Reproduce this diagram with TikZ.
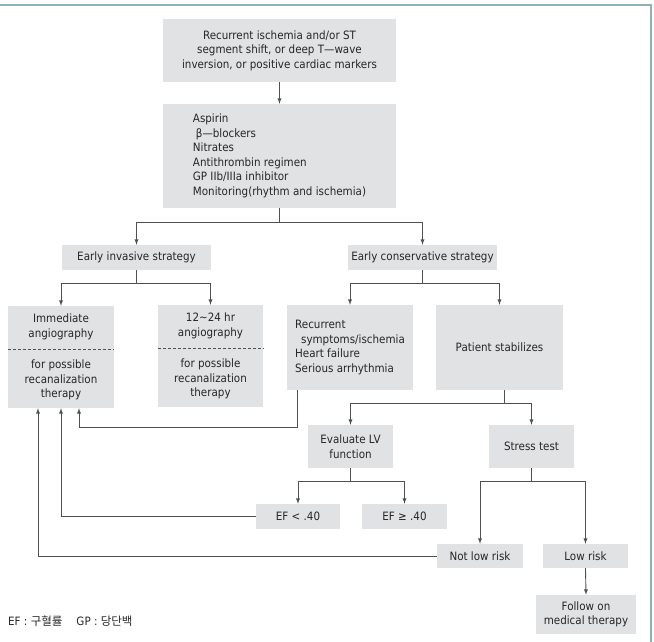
\documentclass[tikz,border=0pt]{standalone}
\usepackage{fontspec}
\setmainfont{DejaVu Sans}[FakeStretch=0.9]
\newfontfamily\kr{Noto Sans CJK KR}
\usetikzlibrary{calc}
\definecolor{boxgray}{HTML}{E1E2E4}
\definecolor{linegray}{HTML}{505050}
\definecolor{framecol}{HTML}{8DB3B6}
\tikzset{
  box/.style={fill=boxgray, inner sep=0pt, align=center, text=black!85},
  txt/.style={inner sep=0pt, align=center, text=black!85},
  conn/.style={draw=linegray, line width=0.9pt},
  sep/.style={draw=linegray, line width=0.7pt, dash pattern=on 3pt off 2pt},
}
\begin{document}
\begin{tikzpicture}[x=1pt,y=-1pt,font=\fontsize{11.5}{14.5}\selectfont]
\useasboundingbox (0,0) rectangle (654,642);
\draw[framecol,line width=1.5pt] (0,5) -- (651,5) -- (651,642);

\node[box,minimum width=233pt,minimum height=63pt] (sympt) at (279.5,50.5) {Recurrent ischemia and/or ST\\segment shift, or deep T—wave\\inversion, or positive cardiac markers};
\node[box,minimum width=233pt,minimum height=104pt,align=left] (meds) at (279.5,156) {Aspirin\\\hspace*{3pt}β—blockers\\Nitrates\\Antithrombin regimen\\GP IIb/IIIa inhibitor\\Monitoring(rhythm and ischemia)};
\draw[conn,-latex] (sympt.south) -- (meds.north);

\node[box,minimum width=149pt,minimum height=25pt] (inv) at (136.5,257.5) {Early invasive strategy};
\node[box,minimum width=149pt,minimum height=25pt] (cons) at (422.5,257.5) {Early conservative strategy};
\draw[conn,-latex] (meds.south) -- ++(0,14) -| (inv.north);
\draw[conn,-latex] (meds.south) -- ++(0,14) -| (cons.north);

\node[box,minimum width=106pt,minimum height=102pt] (imm) at (61,357) {};
\node[txt] (immup) at (61,327) {Immediate\\angiography};
\node[txt] (immlow) at (61,380) {for possible\\recanalization\\therapy};
\draw[sep] (imm.west |- 0,349) -- (imm.east |- 0,349);
\node[box,minimum width=105pt,minimum height=102pt] (late) at (210.5,356) {};
\node[txt] (lateup) at (210.5,326) {12∼24 hr\\angiography};
\node[txt] (latelow) at (210.5,379) {for possible\\recanalization\\therapy};
\draw[sep] (late.west |- 0,348) -- (late.east |- 0,348);
\draw[conn,-latex] (inv.south) -- ++(0,13) -| (imm.north);
\draw[conn,-latex] (inv.south) -- ++(0,13) -| (late.north);

\node[box,minimum width=126pt,minimum height=85pt,align=left] (rec) at (350,347.5) {Recurrent\\\hspace*{6pt}symptoms/ischemia\\Heart failure\\Serious arrhythmia};
\node[box,minimum width=127pt,minimum height=85pt] (stab) at (499.5,347.5) {Patient stabilizes};
\draw[conn,-latex] (cons.south) -- ++(0,13) -| (rec.north);
\draw[conn,-latex] (cons.south) -- ++(0,13) -| (stab.north);
\draw[conn,-latex] ([xshift=11pt]rec.south west) -- ++(0,37) -| ([xshift=18pt]imm.south);

\node[box,minimum width=85pt,minimum height=43pt] (lv) at (350.5,446.5) {Evaluate LV\\function};
\node[box,minimum width=85pt,minimum height=43pt] (stress) at (531.5,446.5) {Stress test};
\draw[conn,-latex] ([xshift=5pt]stab.south) -- ++(0,13) -| (lv.north);
\draw[conn,-latex] ([xshift=5pt]stab.south) -- ++(0,13) -| (stress.north);

\node[box,minimum width=84pt,minimum height=25pt] (eflow) at (298,516.5) {EF < .40};
\node[box,minimum width=85pt,minimum height=25pt] (efhigh) at (404.5,516.5) {EF ≥ .40};
\draw[conn,-latex] (lv.south) -- ++(0,13) -| (eflow.north);
\draw[conn,-latex] (lv.south) -- ++(0,13) -| (efhigh.north);
\draw[conn,-latex] (eflow.west) -| (imm.south);

\node[box,minimum width=86pt,minimum height=24pt] (notlow) at (480,556) {Not low risk};
\node[box,minimum width=85pt,minimum height=24pt] (low) at (585.5,556) {Low risk};
\draw[conn,-latex] (stress.south) -- ++(0,13) -| (notlow.north);
\draw[conn,-latex] (stress.south) -- ++(0,13) -| (low.north);
\draw[conn,-latex] (notlow.west) -| ([xshift=-23pt]imm.south);

\node[box,minimum width=100pt,minimum height=39pt] (follow) at (586,614.5) {Follow on\\medical therapy};
\draw[conn,-latex] (low.south) -- (follow.north);

\node[txt,anchor=west] (legend) at (8,621) {EF : {\kr 구혈률}\hspace{14pt}GP : {\kr 당단백}};
\end{tikzpicture}
\end{document}
